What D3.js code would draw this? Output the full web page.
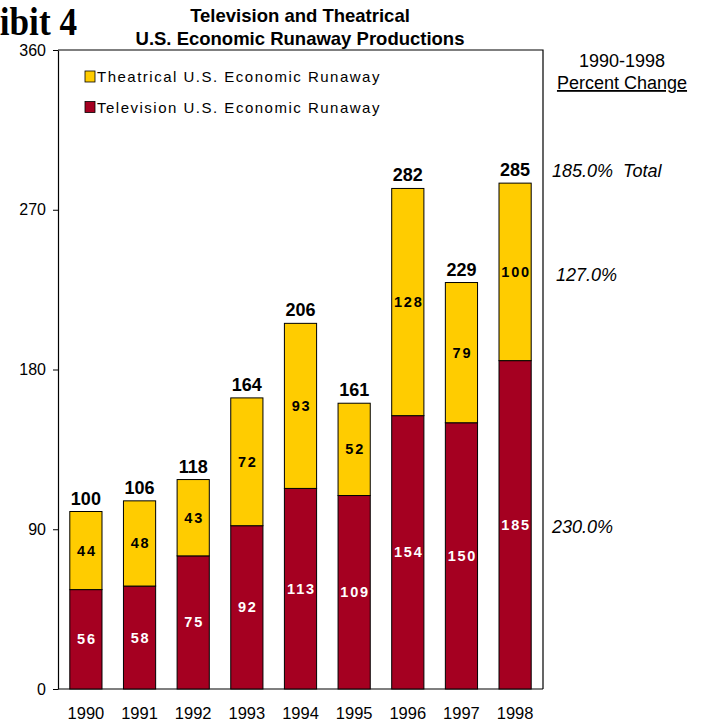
<!DOCTYPE html>
<html>
<head>
<meta charset="utf-8">
<script src="https://cdn.jsdelivr.net/npm/d3@7"></script>
<style>
  body { margin: 0; background: #fff; }
  svg { display: block; font-family: Arial, "Liberation Sans", sans-serif; }
  text.chg { white-space: pre; }
</style>
</head>
<body>
<svg id="chart" width="704" height="724"></svg>
<script>
// Runaway productions index by year (1990 = 100)
const years = ["1990", "1991", "1992", "1993", "1994", "1995", "1996", "1997", "1998"];
const television = [56, 58, 75, 92, 113, 109, 154, 150, 185];
const theatrical = [44, 48, 43, 72, 93, 52, 128, 79, 100];
const totals = [100, 106, 118, 164, 206, 161, 282, 229, 285];
const yTicks = [0, 90, 180, 270, 360];
const seriesNames = ["Theatrical U.S. Economic Runaway", "Television U.S. Economic Runaway"];
const changeLabels = [
  { text: "185.0%  Total", value: 288.5, dx: 0 },
  { text: "127.0%", value: 230, dx: 4 },
  { text: "230.0%", value: 88, dx: 0 }
];

const colors = { theatrical: "#FFCC00", television: "#A50021" };

(function draw() {
  const svg = d3.select("#chart");
  const plot = { left: 58, right: 543, top: 50, bottom: 689 };
  const font = "Arial, 'Liberation Sans', sans-serif";

  const x = d3.scaleBand().domain(years).range([plot.left, plot.right]).paddingInner(0.4).paddingOuter(0.22);
  const y = d3.scaleLinear().domain([0, 360]).range([plot.bottom, plot.top]);

  // Frame (top and right edges)
  svg.append("path")
    .attr("d", `M${plot.left},${plot.top}H${plot.right}V${plot.bottom}`)
    .attr("fill", "none").attr("stroke", "#000").attr("stroke-width", 1.2);

  // Y axis
  const yAxis = svg.append("g")
    .attr("transform", `translate(${plot.left},0)`)
    .call(d3.axisLeft(y).tickValues(yTicks).tickSize(5).tickSizeOuter(0).tickPadding(7));
  yAxis.select(".domain").attr("stroke", "#000").attr("stroke-width", 1.2);
  yAxis.selectAll("text").attr("font-size", 16).attr("fill", "#000").attr("font-family", font);

  // X axis
  const xAxis = svg.append("g")
    .attr("transform", `translate(0,${plot.bottom})`)
    .call(d3.axisBottom(x).tickSize(0).tickPadding(18));
  xAxis.select(".domain").attr("d", `M${plot.left},0H${plot.right}`).attr("stroke", "#000").attr("stroke-width", 1.2);
  xAxis.selectAll("text").attr("font-size", 16.5).attr("fill", "#000").attr("font-family", font);

  // Stacked bars
  const stacked = years.map((yr, i) => ({ yr, tv: television[i], th: theatrical[i], total: totals[i] }));

  const g = svg.append("g");
  g.selectAll("rect.tv").data(stacked).join("rect")
    .attr("class", "tv")
    .attr("x", d => x(d.yr)).attr("width", x.bandwidth())
    .attr("y", d => y(d.tv)).attr("height", d => y(0) - y(d.tv))
    .attr("fill", colors.television).attr("stroke", "#000").attr("stroke-width", 1);

  g.selectAll("rect.th").data(stacked).join("rect")
    .attr("class", "th")
    .attr("x", d => x(d.yr)).attr("width", x.bandwidth())
    .attr("y", d => y(d.tv + d.th)).attr("height", d => y(d.tv) - y(d.tv + d.th))
    .attr("fill", colors.theatrical).attr("stroke", "#000").attr("stroke-width", 1);

  // Segment value labels
  g.selectAll("text.tvl").data(stacked).join("text")
    .attr("class", "tvl")
    .attr("x", d => x(d.yr) + x.bandwidth() / 2 + 1)
    .attr("y", d => y(d.tv / 2) + 5)
    .attr("text-anchor", "middle").attr("font-size", 14.5).attr("font-weight", "bold")
    .attr("letter-spacing", 1.8).attr("fill", "#fff")
    .text(d => d.tv);

  g.selectAll("text.thl").data(stacked).join("text")
    .attr("class", "thl")
    .attr("x", d => x(d.yr) + x.bandwidth() / 2 + 1)
    .attr("y", d => y(d.tv + d.th / 2) + 5)
    .attr("text-anchor", "middle").attr("font-size", 14.5).attr("font-weight", "bold")
    .attr("letter-spacing", 1.8).attr("fill", "#000")
    .text(d => d.th);

  // Totals above bars
  g.selectAll("text.tot").data(stacked).join("text")
    .attr("class", "tot")
    .attr("x", d => x(d.yr) + x.bandwidth() / 2)
    .attr("y", d => y(d.total) - 7)
    .attr("text-anchor", "middle").attr("font-size", 18).attr("font-weight", "bold")
    .attr("fill", "#000")
    .text(d => d.total);

  // Legend
  const legend = svg.append("g");
  seriesNames.forEach((name, i) => {
    const ly = 82 + i * 30.5;
    legend.append("rect")
      .attr("x", 85).attr("y", ly - 11).attr("width", 10).attr("height", 11)
      .attr("fill", i === 0 ? colors.theatrical : colors.television)
      .attr("stroke", "#000").attr("stroke-width", 0.8);
    legend.append("text")
      .attr("x", 97).attr("y", ly)
      .attr("font-size", 15).attr("letter-spacing", 1.5).attr("fill", "#000")
      .text(name);
  });

  // Exhibit number, bold condensed serif
  svg.append("text")
    .attr("x", 0).attr("y", 0).attr("text-anchor", "end")
    .attr("font-family", "'Liberation Serif', 'DejaVu Serif', serif")
    .attr("font-size", 40).attr("font-weight", "bold")
    .attr("transform", "translate(77,35) scale(0.88,1)")
    .text("Exhibit 4");

  svg.append("text")
    .attr("x", 300).attr("y", 22).attr("text-anchor", "middle")
    .attr("font-size", 18.5).attr("font-weight", "bold")
    .text("Television and Theatrical");
  svg.append("text")
    .attr("x", 300).attr("y", 45).attr("text-anchor", "middle")
    .attr("font-size", 18.5).attr("font-weight", "bold")
    .text("U.S. Economic Runaway Productions");

  // Percent change annotations
  svg.append("text")
    .attr("x", 622).attr("y", 67).attr("text-anchor", "middle")
    .attr("font-size", 18).text("1990-1998");
  svg.append("text")
    .attr("x", 622).attr("y", 89).attr("text-anchor", "middle")
    .attr("font-size", 18).attr("text-decoration", "underline").text("Percent Change");

  svg.selectAll("text.chg").data(changeLabels).join("text")
    .attr("class", "chg")
    .attr("x", d => 552 + d.dx)
    .attr("y", d => y(d.value))
    .attr("font-size", 18).attr("font-style", "italic")
    .text(d => d.text);
})();
</script>
</body>
</html>
